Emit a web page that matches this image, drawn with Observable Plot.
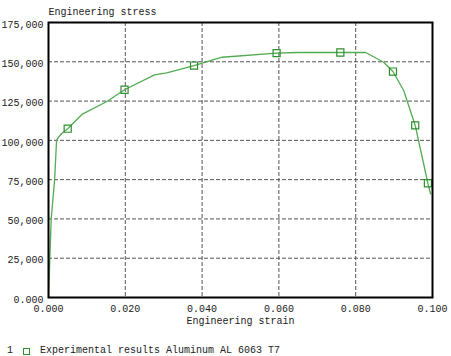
<!DOCTYPE html>
<html>
<head>
<meta charset="utf-8">
<script src="https://cdn.jsdelivr.net/npm/d3@7"></script>
<script src="https://cdn.jsdelivr.net/npm/@observablehq/plot@0.6"></script>
<style>
  html, body { margin: 0; padding: 0; background: #fff; }
  #chart svg { display: block; }
  .legend { font: 10px "Liberation Mono", "DejaVu Sans Mono", monospace; color: #222; height: 14px; line-height: 14px; margin-top: 9px; white-space: pre; display: flex; align-items: center; }
  .sq { display: inline-block; width: 5px; height: 5px; border: 1.2px solid #2f8f2f; margin: 0 10px 0 10px; }
</style>
</head>
<body>
<div id="chart"></div>
<div class="legend"><span style="margin-left:7px">1</span><span class="sq"></span><span>Experimental results Aluminum AL 6063 T7</span></div>
<script>
// Full curve (engineering strain, engineering stress)
const curveStrain = [0, 0.0007, 0.0016, 0.0019, 0.0021, 0.0026, 0.0035, 0.005, 0.0087, 0.0152, 0.0198, 0.0276, 0.0308, 0.0379, 0.0452, 0.0594, 0.0648, 0.076, 0.0826, 0.0873, 0.0897, 0.0925, 0.0955, 0.0988, 0.0995];
const curveStress = [0, 50000, 75000, 90000, 100000, 102000, 104500, 107400, 116500, 124700, 132200, 141700, 143000, 147600, 152900, 155500, 155900, 155900, 155900, 149700, 143800, 131700, 109500, 72700, 66000];
// Marker points
const markerStrain = [0.005, 0.0198, 0.0379, 0.0594, 0.076, 0.0897, 0.0955, 0.0988];
const markerStress = [107400, 132200, 147600, 155500, 155900, 143800, 109500, 72700];
// Ticks
const xTicks = [0, 0.02, 0.04, 0.06, 0.08, 0.1];
const xTickLabels = ["0.000", "0.020", "0.040", "0.060", "0.080", "0.100"];
const yTicks = [0, 25000, 50000, 75000, 100000, 125000, 150000, 175000];
const yTickLabels = ["0.000", "25,000", "50,000", "75,000", "100,000", "125,000", "150,000", "175,000"];
const xLabel = "Engineering strain";
const yLabel = "Engineering stress";

const curve = curveStrain.map((x, i) => ({x, y: curveStress[i]}));
const markers = markerStrain.map((x, i) => ({x, y: markerStress[i]}));

const font = '"Liberation Mono", "DejaVu Sans Mono", monospace';

const chart = Plot.plot({
  width: 451,
  height: 335,
  marginLeft: 48,
  marginRight: 19,
  marginTop: 22,
  marginBottom: 38,
  style: {fontFamily: font, fontSize: "10px", color: "#222", background: "#fff"},
  x: {domain: [0, 0.1]},
  y: {domain: [0, 175000]},
  marks: [
    Plot.gridX(xTicks.slice(1, -1), {stroke: "#555", strokeOpacity: 1, strokeDasharray: "4,2"}),
    Plot.gridY(yTicks.slice(1, -1), {stroke: "#555", strokeOpacity: 1, strokeDasharray: "4,2"}),
    Plot.axisX(xTicks, {tickSize: 0, tickPadding: 7, tickFormat: (d, i) => xTickLabels[i], label: null, fill: "#222"}),
    Plot.axisY(yTicks, {tickSize: 0, tickPadding: 5, dy: 2, tickFormat: (d, i) => yTickLabels[i], label: null, fill: "#222"}),
    Plot.line(curve, {x: "x", y: "y", stroke: "#52ab52", strokeWidth: 1.3}),
    Plot.dot(markers, {x: "x", y: "y", symbol: "square", r: 4, stroke: "#2f8f2f", strokeWidth: 1.2, fill: "none"}),
    Plot.frame({stroke: "#000", strokeWidth: 2}),
    Plot.text([xLabel], {frameAnchor: "bottom", dy: 26, text: d => d, fill: "#222"}),
    Plot.text([yLabel], {frameAnchor: "top-left", dy: -15, textAnchor: "start", text: d => d, fill: "#222"})
  ]
});
document.getElementById("chart").appendChild(chart);
</script>
</body>
</html>
